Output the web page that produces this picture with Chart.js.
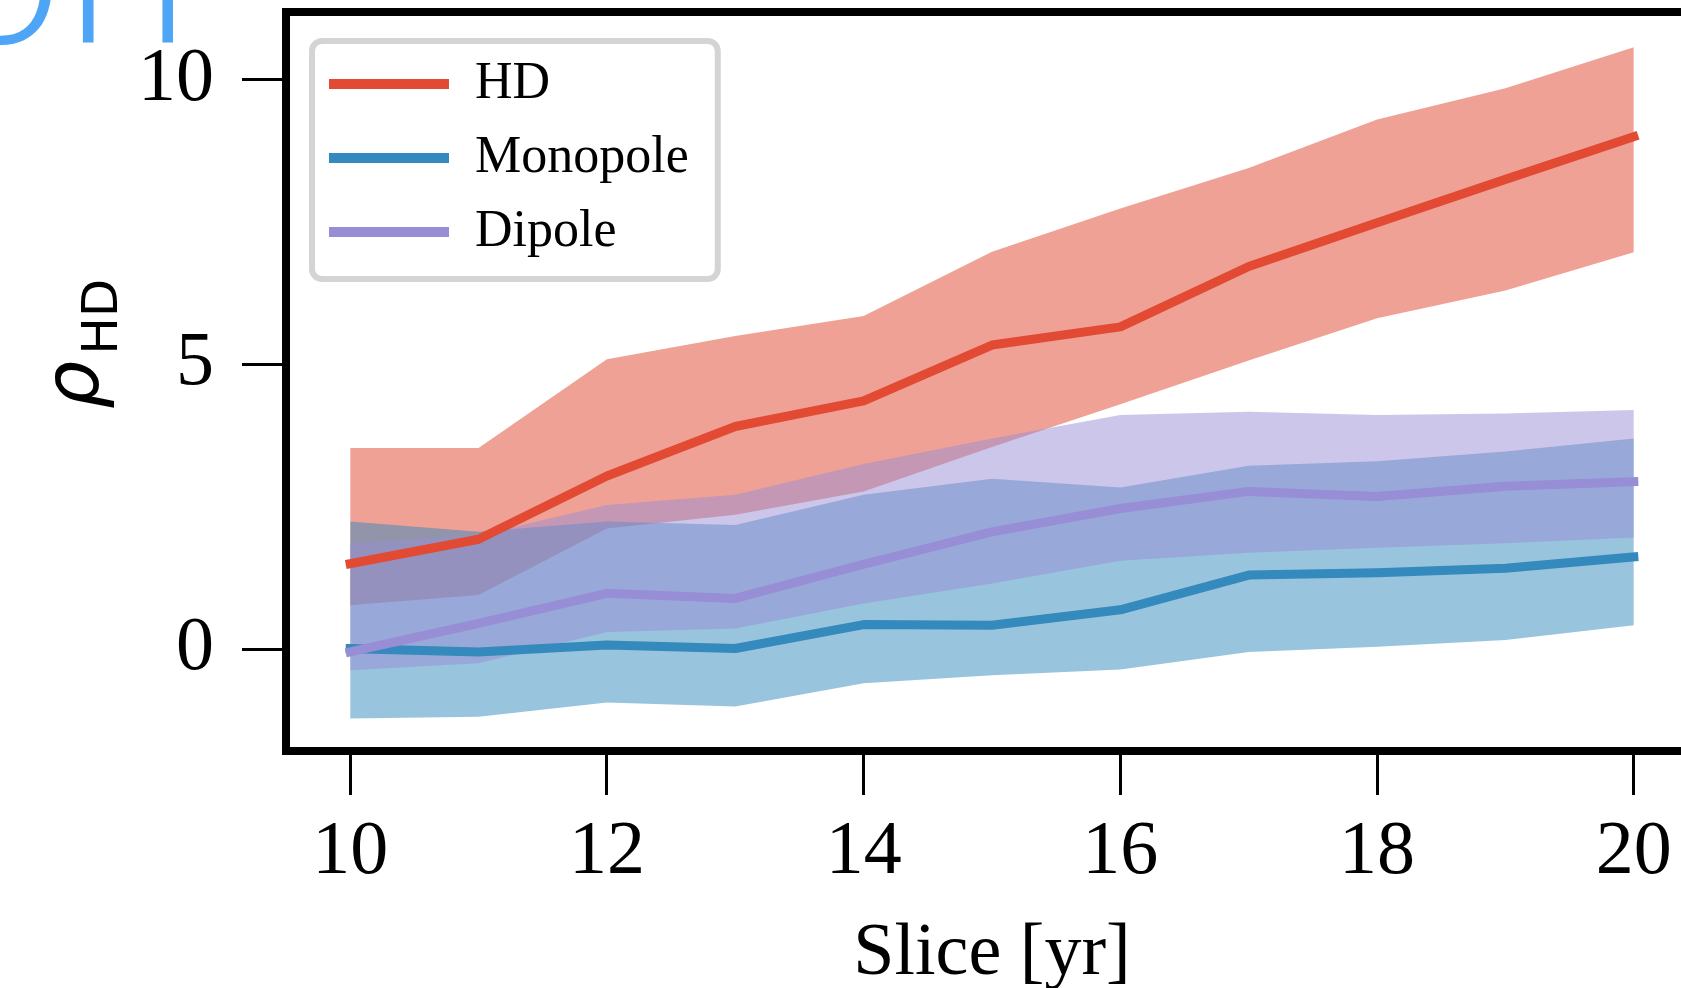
<!DOCTYPE html>
<html>
<head>
<meta charset="utf-8">
<title>rho_HD vs slice</title>
<script src="https://cdn.jsdelivr.net/npm/chart.js@4.4.1/dist/chart.umd.min.js"></script>
<style>
  html, body { margin: 0; padding: 0; background: #fff; overflow: hidden; }
  #wrap { position: relative; width: 1760px; height: 988px; }
</style>
</head>
<body>
<div id="wrap"><canvas id="myChart"></canvas></div>
<script>
// slice length in years
const slices = [10, 11, 12, 13, 14, 15, 16, 17, 18, 19, 20];
const xTicks = [10, 12, 14, 16, 18, 20];
const yTicks = [0, 5, 10];

// median and band edges per correlation model
const hdMid = [1.50, 1.93, 3.04, 3.91, 4.36, 5.34, 5.66, 6.72, 7.49, 8.25, 9.00];
const hdHigh = [3.53, 3.53, 5.09, 5.50, 5.85, 6.98, 7.74, 8.45, 9.30, 9.85, 10.57];
const hdLow = [0.77, 0.95, 2.12, 2.36, 2.77, 3.55, 4.30, 5.07, 5.81, 6.30, 6.97];

const monoMid = [0.01, -0.05, 0.07, 0.01, 0.43, 0.42, 0.69, 1.30, 1.34, 1.42, 1.62];
const monoHigh = [2.24, 2.06, 2.24, 2.18, 2.71, 2.99, 2.84, 3.22, 3.30, 3.47, 3.70];
const monoLow = [-1.22, -1.19, -0.94, -1.01, -0.60, -0.46, -0.36, -0.05, 0.04, 0.16, 0.42];

const dipMid = [-0.05, 0.45, 0.98, 0.89, 1.49, 2.06, 2.47, 2.77, 2.68, 2.86, 2.94];
const dipHigh = [1.86, 2.00, 2.53, 2.71, 3.25, 3.70, 4.11, 4.17, 4.11, 4.14, 4.20];
const dipLow = [-0.37, -0.25, 0.30, 0.36, 0.80, 1.15, 1.55, 1.69, 1.78, 1.86, 1.96];

const names = ['HD', 'Monopole', 'Dipole'];
const mids = [hdMid, monoMid, dipMid];
const highs = [hdHigh, monoHigh, dipHigh];
const lows = [hdLow, monoLow, dipLow];
const lineColors = ['#E24A33', '#348ABD', '#988ED5'];
const bandColors = ['rgba(226,74,51,0.52)', 'rgba(52,138,189,0.5)', 'rgba(152,142,213,0.5)'];

const serif = '"Liberation Serif", "Times New Roman", serif';

function pts(vals) {
    return slices.map((x, i) => ({x: x, y: vals[i]}));
}

var datasets = [];
// lines first so the legend picks them up in this order
for (var i = 0; i < names.length; i++) {
    datasets.push({
        label: names[i],
        data: pts(mids[i]),
        borderColor: lineColors[i],
        backgroundColor: lineColors[i],
        borderWidth: 9,
        borderCapStyle: 'square',
        borderJoinStyle: 'round',
        pointRadius: 0,
        pointStyle: 'line',
        fill: false,
        order: 3 - i
    });
}
// shaded bands, HD underneath
for (var i = 0; i < names.length; i++) {
    datasets.push({
        label: '',
        data: pts(highs[i]),
        borderWidth: 0,
        borderColor: 'transparent',
        backgroundColor: bandColors[i],
        pointRadius: 0,
        fill: '+1',
        order: 30 - 10 * i
    });
    datasets.push({
        label: '',
        data: pts(lows[i]),
        borderWidth: 0,
        borderColor: 'transparent',
        pointRadius: 0,
        fill: false,
        order: 31 - 10 * i
    });
}

// box around the plot area
const frame = {
    id: 'frame',
    afterLayout(chart) {
        const lg = chart.legend;
        const a = chart.chartArea;
        if (!lg) return;
        lg.left = a.left + 21;
        lg.right = lg.left + lg.width;
        lg.top = a.top + 24;
        lg.bottom = lg.top + lg.height;
    },
    afterDraw(chart) {
        const ctx = chart.ctx;
        const a = chart.chartArea;
        ctx.save();
        ctx.lineWidth = 8;
        ctx.strokeStyle = '#000';
        ctx.strokeRect(a.left, a.top, a.right - a.left, a.bottom - a.top);

        // legend border
        const boxes = chart.legend.legendHitBoxes;
        if (boxes && boxes.length) {
            var l = Infinity, r = -Infinity;
            boxes.forEach(b => { l = Math.min(l, b.left); r = Math.max(r, b.left + b.width); });
            const last = boxes[boxes.length - 1];
            const t = boxes[0].top - 17;
            const btm = last.top + last.height + 21;
            ctx.lineWidth = 6;
            ctx.strokeStyle = '#d4d4d4';
            ctx.beginPath();
            ctx.roundRect(l - 17, t, r - l + 46, btm - t, 10);
            ctx.stroke();
        }
        ctx.restore();
    }
};

// rho_HD axis label, rotated, with subscript
const yTitle = {
    id: 'yTitle',
    afterDraw(chart) {
        const ctx = chart.ctx;
        const a = chart.chartArea;
        ctx.save();
        ctx.translate(0, a.top + 397);
        ctx.rotate(-Math.PI / 2);
        ctx.fillStyle = '#000';
        ctx.textBaseline = 'alphabetic';
        ctx.textAlign = 'left';
        ctx.font = 'italic 76px "DejaVu Sans"';
        ctx.fillText('\u03C1', 0, a.left - 188);
        const w = ctx.measureText('\u03C1').width;
        ctx.font = '50px "DejaVu Sans"';
        ctx.fillText('HD', w + 6, a.left - 169);
        ctx.restore();
    }
};

// tail of the heading above the figure
const heading = {
    id: 'heading',
    afterDraw(chart) {
        const ctx = chart.ctx;
        ctx.save();
        ctx.fillStyle = '#4EA5F6';
        ctx.font = '300 215px "Open Sans"';
        ctx.textBaseline = 'alphabetic';
        ctx.fillText('on', -62, 43);
        ctx.restore();
    }
};

var myChart = new Chart('myChart', {
    type: 'line',
    data: {datasets: datasets},
    plugins: [frame, yTitle, heading],
    options: {
        responsive: true,
        maintainAspectRatio: false,
        animation: false,
        devicePixelRatio: 1,
        layout: {padding: {top: 12, right: 62, left: 0, bottom: 0}},
        plugins: {
            filler: {drawTime: 'beforeDatasetsDraw'},
            tooltip: {enabled: false},
            legend: {
                position: 'chartArea',
                align: 'start',
                labels: {
                    usePointStyle: true,
                    pointStyleWidth: 120,
                    color: '#000',
                    padding: 22,
                    font: {family: serif, size: 52},
                    generateLabels: chart => Chart.defaults.plugins.legend.labels.generateLabels(chart)
                        .filter(item => item.datasetIndex < names.length)
                        .sort((p, q) => p.datasetIndex - q.datasetIndex)
                        .map(item => Object.assign(item, {lineCap: 'butt', lineWidth: 10}))
                }
            }
        },
        scales: {
            x: {
                type: 'linear',
                min: 9.5,
                max: 20.5,
                afterBuildTicks: s => { s.ticks = xTicks.map(v => ({value: v})); },
                afterFit: s => { s.height = 237; s.paddingLeft = 0; s.paddingRight = 0; },
                border: {display: false},
                grid: {display: true, drawOnChartArea: false, drawTicks: true, tickLength: 44, tickWidth: 3, tickColor: '#000'},
                ticks: {color: '#000', font: {family: serif, size: 76}, padding: 12, maxRotation: 0, autoSkip: false},
                title: {display: true, text: 'Slice [yr]', color: '#000', font: {family: serif, size: 74}, padding: {top: 0, bottom: -11}}
            },
            y: {
                type: 'linear',
                min: -1.79,
                max: 11.19,
                afterBuildTicks: s => { s.ticks = yTicks.map(v => ({value: v})); },
                afterFit: s => { s.width = 286; s.paddingTop = 0; s.paddingBottom = 0; },
                border: {display: false},
                grid: {display: true, drawOnChartArea: false, drawTicks: true, tickLength: 44, tickWidth: 3, tickColor: '#000'},
                ticks: {color: '#000', font: {family: serif, size: 76}, padding: 28}
            }
        }
    }
});
</script>
</body>
</html>
